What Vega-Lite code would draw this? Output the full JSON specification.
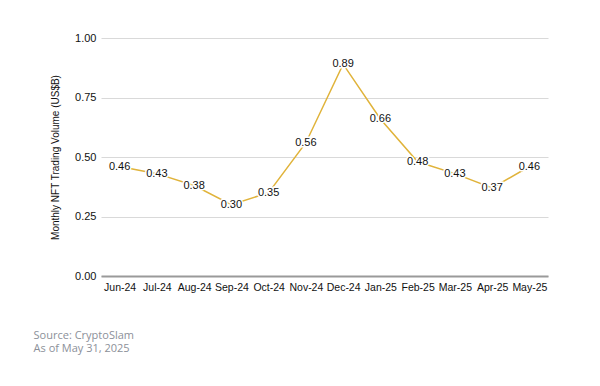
{
  "$schema": "https://vega.github.io/schema/vega-lite/v6.json",
  "autosize": {"type": "none"},
  "width": 447,
  "height": 238,
  "padding": {"left": 101, "top": 38, "right": 52, "bottom": 110},
  "background": "white",
  "config": {"view": {"stroke": null}},
  "title": {
    "text": ["Source: CryptoSlam", "As of May 31, 2025"],
    "orient": "bottom",
    "anchor": "start",
    "frame": "bounds",
    "font": "Open Sans",
    "fontSize": 11,
    "fontWeight": "normal",
    "color": "#8c9099",
    "lineHeight": 13,
    "offset": 37,
    "dx": -17
  },
  "data": {
    "values": [
      {"month": "Jun-24", "volume": 0.46},
      {"month": "Jul-24", "volume": 0.43},
      {"month": "Aug-24", "volume": 0.38},
      {"month": "Sep-24", "volume": 0.30},
      {"month": "Oct-24", "volume": 0.35},
      {"month": "Nov-24", "volume": 0.56},
      {"month": "Dec-24", "volume": 0.89},
      {"month": "Jan-25", "volume": 0.66},
      {"month": "Feb-25", "volume": 0.48},
      {"month": "Mar-25", "volume": 0.43},
      {"month": "Apr-25", "volume": 0.37},
      {"month": "May-25", "volume": 0.46}
    ]
  },
  "encoding": {
    "x": {
      "field": "month",
      "type": "ordinal",
      "sort": null,
      "scale": {"type": "point", "padding": 0.5},
      "axis": {
        "title": null,
        "labelAngle": 0,
        "labelFont": "Liberation Sans",
        "labelFontSize": 10.5,
        "labelColor": "#111111",
        "labelPadding": 6,
        "ticks": false,
        "domainColor": "#9a9a9a",
        "domainWidth": 2,
        "grid": false
      }
    },
    "y": {
      "field": "volume",
      "type": "quantitative",
      "scale": {"domain": [0, 1]},
      "axis": {
        "title": "Monthly NFT Trading Volume (US$B)",
        "titleFont": "Liberation Sans",
        "titleFontSize": 10,
        "titleFontWeight": "normal",
        "titleColor": "#111111",
        "titlePadding": 14,
        "values": [0, 0.25, 0.5, 0.75, 1],
        "format": ".2f",
        "labelFont": "Liberation Sans",
        "labelFontSize": 11,
        "labelColor": "#111111",
        "labelPadding": 5,
        "ticks": false,
        "domain": false,
        "gridColor": "#d9d9d9",
        "gridWidth": 1.2
      }
    }
  },
  "layer": [
    {"mark": {"type": "line", "color": "#e0b33a", "strokeWidth": 1.5}},
    {
      "mark": {"type": "text", "font": "Liberation Sans", "fontSize": 11, "stroke": "white", "strokeWidth": 3, "fill": "white", "baseline": "middle"},
      "encoding": {"text": {"field": "volume", "type": "quantitative", "format": ".2f"}}
    },
    {
      "mark": {"type": "text", "font": "Liberation Sans", "fontSize": 11, "fill": "#111111", "baseline": "middle"},
      "encoding": {"text": {"field": "volume", "type": "quantitative", "format": ".2f"}}
    }
  ]
}
